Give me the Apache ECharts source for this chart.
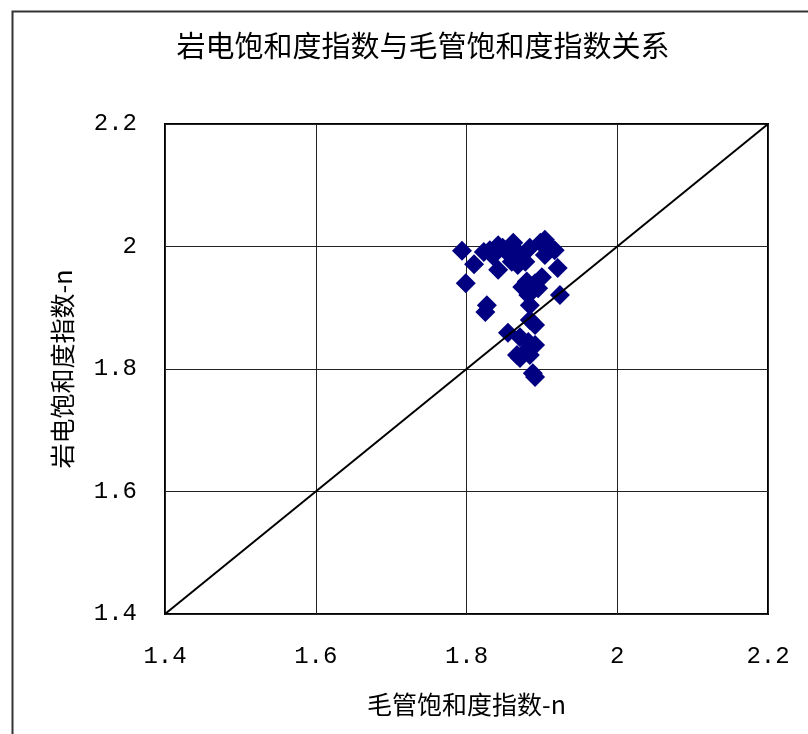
<!DOCTYPE html>
<html>
<head>
<meta charset="utf-8">
<script src="https://cdn.jsdelivr.net/npm/echarts@6/dist/echarts.min.js"></script>
<style>html,body{margin:0;padding:0;background:#fff;}#c{width:808px;height:734px;}</style>
</head>
<body>
<div id="c"></div>
<script>
const titleText = '岩电饱和度指数与毛管饱和度指数关系';
const xName = '毛管饱和度指数-n';
const yName = '岩电饱和度指数-n';
const axisMin = 1.4, axisMax = 2.2, axisStep = 0.2;
// 毛管饱和度指数 (x)
const capillaryN = [1.794,1.810,1.799,1.823,1.831,1.842,1.851,1.862,1.868,1.860,1.868,1.878,1.884,1.898,1.904,1.911,1.917,1.904,1.921,1.842,1.874,1.891,1.900,1.882,1.924,1.827,1.825,1.884,1.884,1.891,1.855,1.871,1.882,1.891,1.867,1.878,1.871,1.884,1.891,1.888,1.848,1.835,1.880,1.895];
// 岩电饱和度指数 (y)
const electricN = [1.993,1.971,1.940,1.991,1.994,2.002,1.994,2.006,1.991,1.975,1.970,1.975,1.998,2.006,2.011,1.999,1.994,1.986,1.965,1.962,1.934,1.940,1.950,1.921,1.921,1.904,1.893,1.904,1.880,1.872,1.859,1.852,1.844,1.839,1.823,1.828,1.818,1.823,1.787,1.793,1.998,1.985,1.943,1.932];
// 1:1 reference line
const refLineX = [1.4, 2.2];
const refLineY = [1.4, 2.2];

const chart = echarts.init(document.getElementById('c'), null, {renderer:'canvas'});
const tickFont = {fontFamily:'Liberation Mono', fontSize:24, color:'#000'};
chart.setOption({
  animation:false,
  backgroundColor:'#fff',
  title:{text:titleText,left:418,top:26,textAlign:'center',
    textStyle:{fontFamily:'Noto Sans CJK SC',fontWeight:'normal',fontSize:29,color:'#000'}},
  graphic:[{type:'rect',left:10,top:9,shape:{width:900,height:900},
    style:{fill:'none',stroke:'#333',lineWidth:2},silent:true,z:-1}],
  grid:{left:165,right:40,top:124,bottom:120,show:true,borderColor:'#000',borderWidth:2,backgroundColor:'transparent'},
  xAxis:{type:'value',min:axisMin,max:axisMax,interval:axisStep,
    name:xName,nameLocation:'middle',nameGap:78,
    nameTextStyle:{fontFamily:'Noto Sans CJK SC',fontSize:25,color:'#000'},
    axisLine:{show:false},axisTick:{show:false},
    axisLabel:Object.assign({margin:31},tickFont),
    splitLine:{show:true,lineStyle:{color:'#222',width:1}}},
  yAxis:{type:'value',min:axisMin,max:axisMax,interval:axisStep,
    name:yName,nameLocation:'middle',nameGap:90,nameRotate:90,
    nameTextStyle:{fontFamily:'Noto Sans CJK SC',fontSize:25,color:'#000'},
    axisLine:{show:false},axisTick:{show:false},
    axisLabel:Object.assign({margin:28},tickFont),
    splitLine:{show:true,lineStyle:{color:'#222',width:1}}},
  series:[
    {type:'line',data:refLineX.map((v,i)=>[v,refLineY[i]]),showSymbol:false,symbol:'none',
     lineStyle:{color:'#000',width:2},z:3},
    {type:'scatter',data:capillaryN.map((v,i)=>[v,electricN[i]]),symbol:'diamond',symbolSize:20,
     itemStyle:{color:'#000080',opacity:1},z:2}
  ]
});
</script>
</body>
</html>
